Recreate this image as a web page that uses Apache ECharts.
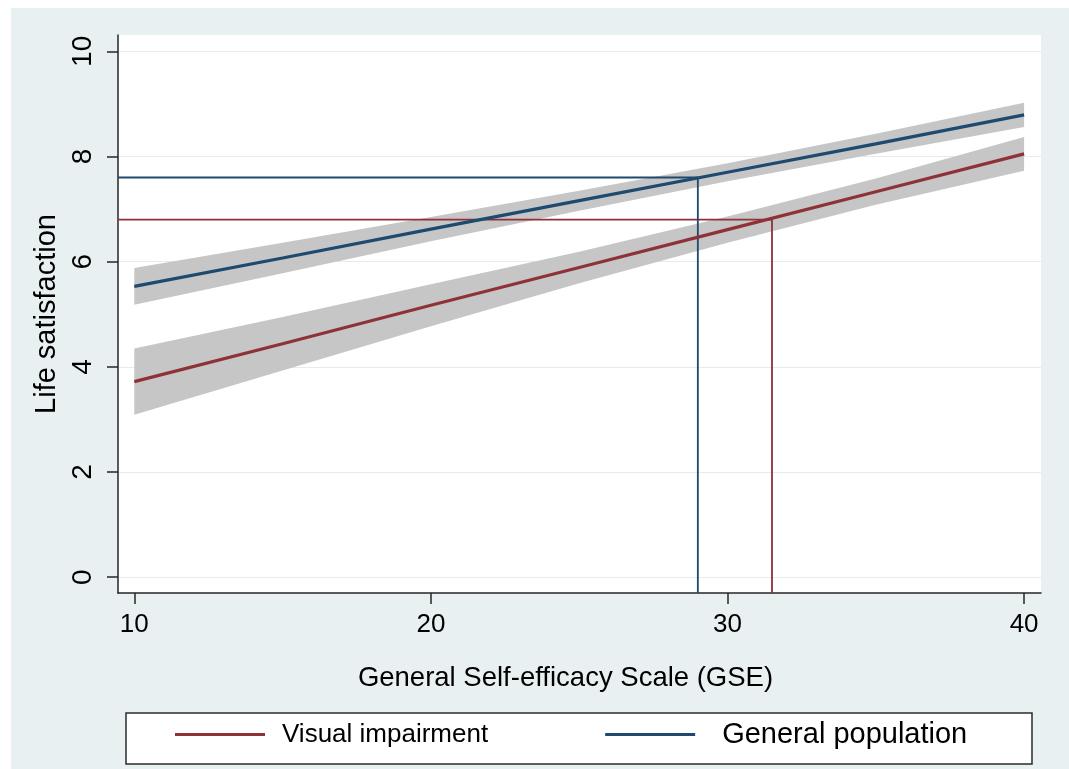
<!DOCTYPE html>
<html>
<head>
<meta charset="utf-8">
<script src="https://cdn.jsdelivr.net/npm/echarts@6/dist/echarts.min.js"></script>
<style>
html,body{margin:0;padding:0;background:#ffffff;}
#chart{width:1069px;height:769px;}
</style>
</head>
<body>
<div id="chart"></div>
<script>
// ---- data ----
const xTicks = [10, 20, 30, 40];
const yTicks = [0, 2, 4, 6, 8, 10];
const xRange = [9.45, 40.57];
const yRange = [-0.3, 10.31];

const gse   = [10, 15, 20, 25, 30, 35, 40];
const viFit = [3.72, 4.44, 5.17, 5.89, 6.61, 7.33, 8.05];
const viLo  = [3.09, 3.93, 4.77, 5.59, 6.36, 7.08, 7.73];
const viHi  = [4.35, 4.95, 5.57, 6.19, 6.86, 7.58, 8.37];
const gpFit = [5.53, 6.07, 6.62, 7.16, 7.70, 8.24, 8.79];
const gpLo  = [5.18, 5.78, 6.39, 6.97, 7.53, 8.05, 8.56];
const gpHi  = [5.88, 6.36, 6.85, 7.35, 7.87, 8.43, 9.02];

const seriesNames = ['Visual impairment', 'General population'];
const refX = [31.5, 29];
const refY = [6.8, 7.6];

// ---- styles ----
const FONT = "'Liberation Sans', Arial, sans-serif";
const RED = '#8f3238';
const BLUE = '#1d4a6e';
const BAND = '#c6c6c6';
const AXIS = '#262626';

const chart = echarts.init(document.getElementById('chart'), null, {renderer: 'canvas'});

function bandSeries(lo, hi) {
  const data = gse.map((x, i) => [x, lo[i], hi[i]]);
  return {
    type: 'custom',
    silent: true,
    clip: true,
    z: 1,
    encode: {x: 0, y: [1, 2]},
    data: data,
    renderItem: function (params, api) {
      if (params.dataIndex !== 0) return null;
      const pts = [];
      for (let i = 0; i < data.length; i++) pts.push(api.coord([data[i][0], data[i][1]]));
      for (let i = data.length - 1; i >= 0; i--) pts.push(api.coord([data[i][0], data[i][2]]));
      return {type: 'polygon', shape: {points: pts}, style: {fill: BAND}};
    }
  };
}

function refSeries(i, color) {
  return {
    type: 'line',
    silent: true,
    z: 2,
    symbol: 'none',
    data: [[xRange[0], refY[i]], [refX[i], refY[i]], [refX[i], yRange[0]]],
    lineStyle: {color: color, width: 1.8},
    itemStyle: {color: color}
  };
}

function fitSeries(name, fit, color) {
  return {
    name: name,
    type: 'line',
    z: 3,
    symbol: 'none',
    data: gse.map((x, i) => [x, fit[i]]),
    lineStyle: {color: color, width: 3.2},
    itemStyle: {color: color}
  };
}

const option = {
  animation: false,
  backgroundColor: '#ffffff',
  textStyle: {fontFamily: FONT},
  graphic: [
    {type: 'rect', z: -10, silent: true, shape: {x: 11, y: 8, width: 1058, height: 761}, style: {fill: '#e9f0f2'}},
    {type: 'rect', z: -1, silent: true, shape: {x: 126, y: 713, width: 906, height: 51}, style: {fill: '#ffffff', stroke: '#2b2b2b', lineWidth: 1.5}}
  ],
  grid: {left: 118, right: 28, top: 35, bottom: 176, show: true, backgroundColor: '#ffffff', borderWidth: 0, containLabel: false},
  legend: {
    data: [
      {name: seriesNames[0], textStyle: {fontSize: 26, color: '#000', fontFamily: FONT, padding: [0, 0, 10, 12]}},
      {name: seriesNames[1], textStyle: {fontSize: 29, color: '#000', fontFamily: FONT, padding: [10, 0, 0, 22]}}
    ],
    left: 175,
    top: 720,
    padding: 0,
    icon: 'rect',
    itemWidth: 90,
    itemHeight: 3,
    itemGap: 117,
    textStyle: {fontSize: 26, color: '#000', fontFamily: FONT}
  },
  xAxis: {
    type: 'value',
    min: xRange[0],
    max: xRange[1],
    name: 'General Self-efficacy Scale (GSE)',
    nameLocation: 'middle',
    nameGap: 71,
    nameTextStyle: {fontSize: 27.5, color: '#000', fontFamily: FONT, padding: [0, 28, 0, 0]},
    axisLine: {show: true, onZero: false, lineStyle: {color: AXIS, width: 1.5}},
    axisTick: {show: true, length: 11, customValues: xTicks, lineStyle: {color: AXIS, width: 1.5}},
    axisLabel: {customValues: xTicks, fontSize: 26, color: '#000', margin: 19, fontFamily: FONT},
    splitLine: {show: false}
  },
  yAxis: {
    type: 'value',
    min: yRange[0],
    max: yRange[1],
    name: 'Life satisfaction',
    nameLocation: 'middle',
    nameGap: 45,
    nameTextStyle: {fontSize: 29, color: '#000', fontFamily: FONT},
    axisLine: {show: true, onZero: false, lineStyle: {color: AXIS, width: 1.5}},
    axisTick: {show: true, length: 11, customValues: yTicks, lineStyle: {color: AXIS, width: 1.5}},
    axisLabel: {customValues: yTicks, rotate: 90, fontSize: 28, color: '#000', margin: 21, fontFamily: FONT},
    splitLine: {show: true, lineStyle: {color: '#e4ecef', width: 1.2}}
  },
  series: [
    bandSeries(viLo, viHi),
    bandSeries(gpLo, gpHi),
    refSeries(0, RED),
    refSeries(1, BLUE),
    fitSeries(seriesNames[0], viFit, RED),
    fitSeries(seriesNames[1], gpFit, BLUE)
  ]
};
chart.setOption(option);
</script>
</body>
</html>
